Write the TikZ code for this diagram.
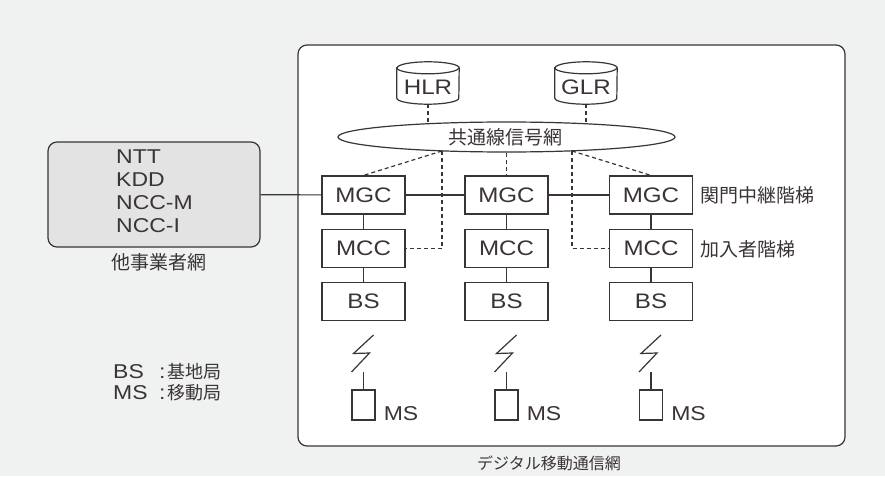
\documentclass[tikz,border=0pt]{standalone}
\usepackage{fontspec}
\setmainfont[FakeStretch=1.15]{Liberation Sans}
\newfontfamily\jp{Noto Sans CJK JP}
\usetikzlibrary{shapes.geometric}
\definecolor{bgc}{HTML}{EFF2F1}
\definecolor{ink}{HTML}{3B3434}
\definecolor{boxfill}{HTML}{E2E3E2}
\begin{document}
\begin{tikzpicture}[x=1pt,y=-1pt,
  ln/.style={draw=ink,line width=1.2pt},
  dsh/.style={draw=ink,line width=1.2pt,dash pattern=on 4pt off 3pt},
  unit/.style={ln,fill=white,rectangle,minimum width=83pt,minimum height=38pt,inner sep=0pt,font=\fontsize{21}{21}\selectfont,text=ink},
  lbl/.style={text=ink,inner sep=0pt,font=\fontsize{20}{20}\selectfont},
  jlbl/.style={text=ink,inner sep=0pt,font=\jp\fontsize{19}{19}\selectfont},
  msbox/.style={ln,fill=white,rectangle,minimum width=23pt,minimum height=30pt,inner sep=0pt},
  cylbox/.style={rectangle,minimum width=62pt,minimum height=42pt,inner sep=0pt},
]
\useasboundingbox (0,0) rectangle (885,476);
\fill[bgc] (0,0) rectangle (885,476);
% big frame
\node[ln,fill=white,rounded corners=9pt,minimum width=547pt,minimum height=401pt,inner sep=0pt] (dig) at (571.5,245.5) {};
\node[jlbl,font=\jp\fontsize{16}{16}\selectfont] (digL) at (549,463) {デジタル移動通信網};
% other carriers
\node[ln,fill=boxfill,rounded corners=9pt,minimum width=212pt,minimum height=105pt,inner sep=0pt] (other) at (154,194.5) {};
\node[text=ink,inner sep=0pt,align=left,font=\fontsize{20}{23}\selectfont] (otherT) at (154.5,191.5) {NTT\\KDD\\NCC-M\\NCC-I};
\node[jlbl] (otherL) at (159,262) {他事業者網};
% HLR / GLR
\node[cylbox] (hlr) at (428,83) {};
\node[cylbox] (glr) at (586,83) {};
\foreach \c in {hlr,glr}{
  \draw[ln,fill=white] ([yshift=-6pt]\c.north west) -- ([yshift=6pt]\c.south west)
     arc[start angle=180,end angle=360,x radius=31pt,y radius=6pt]
     -- ([yshift=-6pt]\c.north east)
     arc[start angle=0,end angle=180,x radius=31pt,y radius=6pt] -- cycle;
  \draw[ln] ([yshift=-6pt]\c.north west) arc[start angle=180,end angle=360,x radius=31pt,y radius=6pt];
}
\node[lbl,font=\fontsize{21}{21}\selectfont] (hlrT) at ([yshift=-4.5pt]hlr.center) {HLR};
\node[lbl,font=\fontsize{21}{21}\selectfont] (glrT) at ([yshift=-4.5pt]glr.center) {GLR};
% signalling network
\node[ln,fill=white,ellipse,minimum width=337pt,minimum height=30pt,inner sep=0pt] (net) at (506.5,137) {};
\node[jlbl] (netT) at (505,137) {共通線信号網};
\coordinate (h1) at (428,123.7);
\coordinate (g1) at (586,123.7);
\coordinate (d1) at (442,151);
\coordinate (d3) at (572,151);
\draw[dsh] (hlr.south) -- (h1);
\draw[dsh] (glr.south) -- (g1);
% columns
\foreach \i/\cx in {1/363.5,2/506.5,3/651}{
  \node[unit] (mgc\i) at (\cx,195) {MGC};
  \node[unit] (mcc\i) at (\cx,248.5) {MCC};
  \node[unit] (bs\i) at (\cx,301.5) {BS};
  \draw[ln] (mgc\i) -- (mcc\i);
  \draw[ln] (mcc\i) -- (bs\i);
  \draw[ln] ({\cx+10},335) -- ({\cx-10},353.5) -- ({\cx+6},353) -- ({\cx-12},372);
  \node[msbox] (ms\i) at (\cx,405) {};
  \coordinate (z\i) at (\cx,372);
  \draw[ln] (z\i) -- (ms\i.north);
  \node[lbl,anchor=base west] (msL\i) at ([xshift=8pt]ms\i.south east) {MS};
}
\draw[ln] (other) -- (mgc1);
\draw[ln] (mgc1) -- (mgc2);
\draw[ln] (mgc2) -- (mgc3);
\draw[dsh] (d1) -- (mgc1.north);
\draw[dsh] (d1) |- (mcc1.east);
\draw[dsh] (net.south) -- (mgc2.north);
\draw[dsh] (d3) -- (mgc3.north);
\draw[dsh] (d3) |- (mcc3.west);
\node[jlbl,anchor=west] (lvl1) at (700,195) {関門中継階梯};
\node[jlbl,anchor=west] (lvl2) at (700,249) {加入者階梯};
% legend
\node[lbl,anchor=west] (leg1) at (113,372) {\makebox[46pt][l]{BS}:\hspace{2pt}{\jp\fontsize{18}{18}\selectfont 基地局}};
\node[lbl,anchor=west] (leg2) at (113,393) {\makebox[46pt][l]{MS}:\hspace{2pt}{\jp\fontsize{18}{18}\selectfont 移動局}};
\end{tikzpicture}
\end{document}
